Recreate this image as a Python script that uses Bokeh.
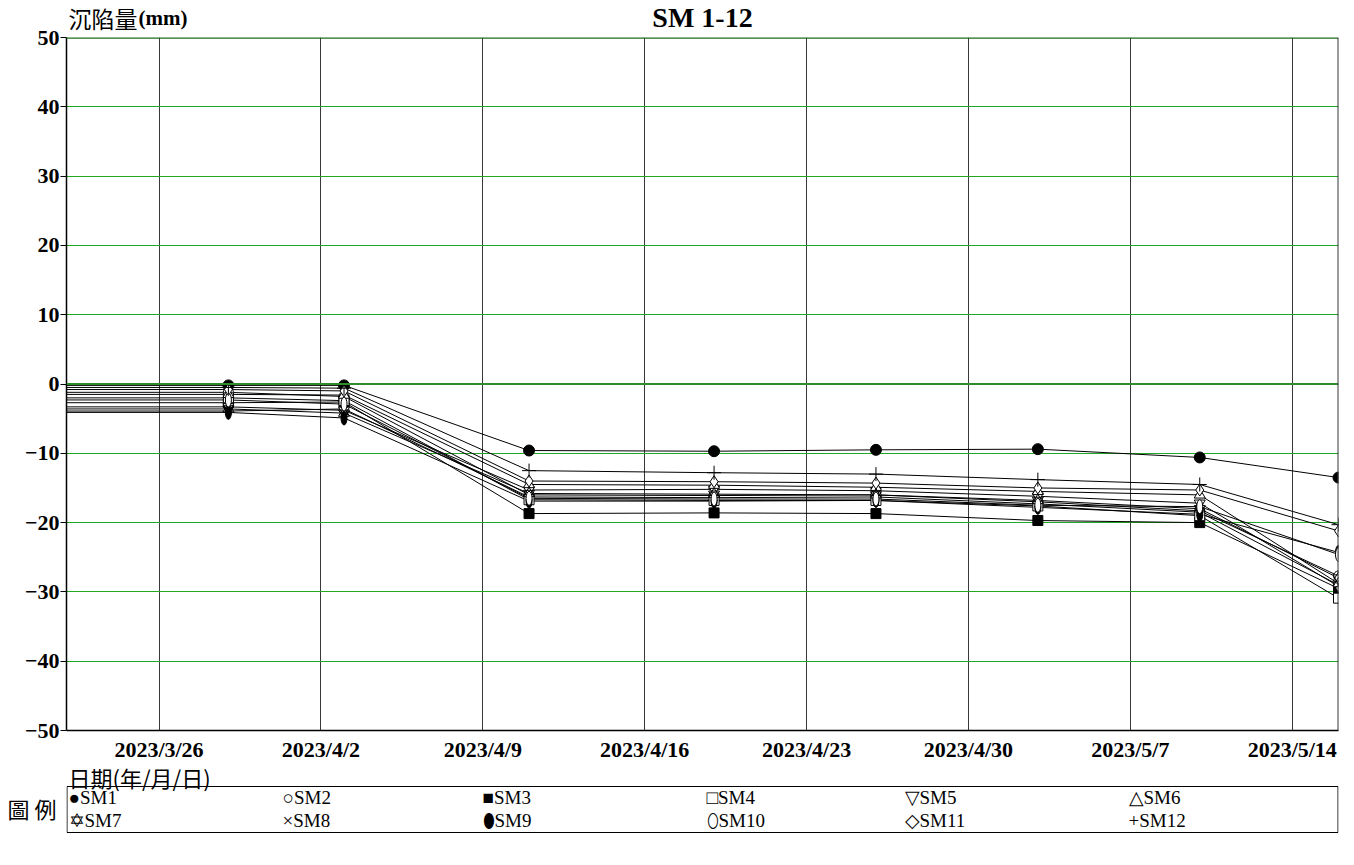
from datetime import datetime
from bokeh.plotting import figure
from bokeh.models import Range1d, FixedTicker, Span, ColumnDataSource, LinearAxis
from bokeh.layouts import column
from bokeh.embed import file_html
from bokeh.resources import INLINE
from bokeh.core.properties import value

# ---------------- data ----------------
DATES = ["2023/3/15", "2023/3/29", "2023/4/3", "2023/4/11", "2023/4/19",
         "2023/4/26", "2023/5/3", "2023/5/10", "2023/5/16"]
SERIES_NAMES = ["SM1", "SM2", "SM3", "SM4", "SM5", "SM6",
                "SM7", "SM8", "SM9", "SM10", "SM11", "SM12"]
SM1 = [-0.2, -0.2, -0.2, -9.6, -9.7, -9.5, -9.4, -10.6, -13.5]
SM2 = [-1.2, -1.2, -1.8, -16.0, -16.1, -16.0, -17.0, -18.3, -27.7]
SM3 = [-2.7, -2.7, -2.6, -18.7, -18.6, -18.7, -19.7, -20.0, -29.5]
SM4 = [-2.0, -2.0, -2.4, -16.7, -16.8, -16.8, -17.6, -19.0, -30.9]
SM5 = [-3.3, -3.3, -3.8, -15.3, -15.2, -15.4, -16.2, -17.2, -29.2]
SM6 = [-1.5, -1.5, -1.6, -14.5, -14.6, -14.9, -15.5, -16.0, -28.8]
SM7 = [-3.6, -3.6, -4.2, -15.8, -15.9, -16.0, -16.8, -18.0, -28.0]
SM8 = [-3.9, -3.9, -3.6, -16.3, -16.4, -16.3, -17.3, -18.5, -29.0]
SM9 = [-4.1, -4.1, -4.9, -16.9, -16.9, -16.8, -17.8, -18.8, -24.3]
SM10 = [-2.3, -2.3, -2.9, -16.5, -16.6, -16.6, -17.5, -17.7, -24.6]
SM11 = [-0.8, -0.8, -1.0, -14.0, -14.1, -14.3, -15.0, -15.3, -21.2]
SM12 = [-0.5, -0.5, -0.6, -12.5, -12.8, -13.0, -13.8, -14.5, -20.3]
SERIES = [SM1, SM2, SM3, SM4, SM5, SM6, SM7, SM8, SM9, SM10, SM11, SM12]
LEGEND_SYMBOLS = ["●", "○", "■", "□", "▽", "△", "✡", "×", "⬮", "⬯", "◇", "+"]

X_START = "2023/3/22"
X_END = "2023/5/16"
TICK_LABELS = ["2023/3/26", "2023/4/2", "2023/4/9", "2023/4/16",
               "2023/4/23", "2023/4/30", "2023/5/7", "2023/5/14"]
Y_TICKS = [-50, -40, -30, -20, -10, 0, 10, 20, 30, 40, 50]
TITLE = "SM 1-12"
Y_LABEL_CJK = "沉陷量"
Y_LABEL_UNIT = "(mm)"
X_LABEL = "日期(年/月/日)"
LEGEND_TITLE = "圖 例"


def ms(s):
    d = datetime.strptime(s, "%Y/%m/%d")
    return (d - datetime(1970, 1, 1)).total_seconds() * 1000.0


xs = [ms(d) for d in DATES]
x0, x1 = ms(X_START), ms(X_END)
tick_ms = [ms(t) for t in TICK_LABELS]

SERIF = "Liberation Serif"
CJK = "Noto Sans CJK TC"

W = 1350
LEFT = 66          # frame left edge (page px)
RIGHT = 12         # border right of the frame
TOP = 37           # frame top edge
P_H = 764          # main chart height (frame bottom at 733)
HD_H = 37          # header strip (drawn underneath the chart's transparent top border)
LG_TOP = 748       # legend strip starts here (overlapping the chart's bottom border)
LG_H = 106


def strip(height, top):
    f = figure(width=W, height=height, x_range=Range1d(LEFT, W - RIGHT),
               y_range=Range1d(top + height, top),
               output_backend="svg", toolbar_location=None,
               x_axis_location=None, y_axis_location=None,
               min_border_left=LEFT, min_border_right=RIGHT,
               min_border_top=0, min_border_bottom=0)
    f.outline_line_color = None
    f.xgrid.visible = False
    f.ygrid.visible = False
    f.background_fill_color = None
    f.border_fill_color = None
    return f


# ---------------- header strip (title + y-axis name) ----------------
hd = strip(HD_H, 0)
hd.text(x=[(LEFT + W - RIGHT) / 2], y=[17], text=[TITLE], text_font=value(SERIF),
        text_font_style="bold", text_font_size="28px", text_align="center",
        text_baseline="middle", text_color="black")
hd.text(x=[68], y=[17], text=[Y_LABEL_CJK], text_font=value(CJK),
        text_font_size="23px", text_align="left", text_baseline="middle",
        text_color="black")
hd.text(x=[138], y=[17], text=[Y_LABEL_UNIT], text_font=value(SERIF),
        text_font_style="bold", text_font_size="21px", text_align="left",
        text_baseline="middle", text_color="black")

# ---------------- main chart ----------------
p = figure(width=W, height=P_H, x_axis_type="datetime",
           x_range=Range1d(x0, x1), y_range=Range1d(-50, 50),
           output_backend="svg", toolbar_location=None,
           min_border_left=LEFT, min_border_right=RIGHT,
           min_border_top=TOP, min_border_bottom=31,
           styles={"margin-top": f"-{HD_H}px"})
p.outline_line_color = None
p.background_fill_color = "white"
p.border_fill_color = None

p.xaxis.ticker = FixedTicker(ticks=tick_ms)
p.xaxis.major_label_overrides = {t: lab for t, lab in zip(tick_ms, TICK_LABELS)}
p.yaxis.ticker = FixedTicker(ticks=Y_TICKS)
for ax in (p.xaxis[0], p.yaxis[0]):
    ax.major_label_text_font = SERIF
    ax.major_label_text_font_style = "bold"
    ax.major_label_text_font_size = "22px"
    ax.major_label_text_color = "black"
    ax.axis_line_color = "black"
    ax.axis_line_width = 1.5
    ax.minor_tick_line_color = None
    ax.major_tick_line_color = "black"
p.xaxis.major_tick_out = 0
p.xaxis.major_tick_in = 0
p.xaxis.major_label_standoff = 6
p.yaxis.major_tick_out = 6
p.yaxis.major_tick_in = 0
p.yaxis.major_label_standoff = 1

p.xgrid.grid_line_color = "#383838"
p.xgrid.grid_line_width = 1
p.ygrid.grid_line_color = "#22a822"
p.ygrid.grid_line_width = 1

p.add_layout(Span(location=0, dimension="width", line_color="#2a8f2a", line_width=2))
p.add_layout(Span(location=50, dimension="width", line_color="#1d6e1d", line_width=2.5))
p.add_layout(Span(location=x1, dimension="height", line_color="#383838", line_width=2))

for ys in SERIES:
    p.line(xs, ys, line_color="black", line_width=1)

src = {name: ColumnDataSource(dict(x=xs, y=ys)) for name, ys in zip(SERIES_NAMES, SERIES)}
mk = dict(line_color="black", line_width=1)
p.scatter("x", "y", source=src["SM1"], marker="circle", size=11, fill_color="black", **mk)
p.scatter("x", "y", source=src["SM2"], marker="circle", size=10, fill_color="white", **mk)
p.scatter("x", "y", source=src["SM3"], marker="square", size=10, fill_color="black", **mk)
p.scatter("x", "y", source=src["SM4"], marker="square", size=10, fill_color="white", **mk)
p.scatter("x", "y", source=src["SM5"], marker="inverted_triangle", size=11, fill_color="white", **mk)
p.scatter("x", "y", source=src["SM6"], marker="triangle", size=11, fill_color="white", **mk)
p.scatter("x", "y", source=src["SM7"], marker="triangle", size=11, fill_color=None, **mk)
p.scatter("x", "y", source=src["SM7"], marker="inverted_triangle", size=11, fill_color=None, **mk)
p.scatter("x", "y", source=src["SM8"], marker="x", size=9, **mk)
p.ellipse("x", "y", source=src["SM9"], width=6, height=14, width_units="screen",
          height_units="screen", fill_color="black", **mk)
p.ellipse("x", "y", source=src["SM10"], width=6, height=14, width_units="screen",
          height_units="screen", fill_color="white", **mk)
p.scatter("x", "y", source=src["SM11"], marker="diamond", size=12, fill_color="white", **mk)
p.scatter("x", "y", source=src["SM12"], marker="cross", size=14, **mk)

# ---------------- legend strip ----------------
lg = strip(LG_H, LG_TOP)
lg.styles = {"margin-top": f"-{P_H - LG_TOP}px"}
cap_axis = LinearAxis(ticker=FixedTicker(ticks=[807]),
                      major_label_overrides={807: LEGEND_TITLE},
                      major_label_text_font=CJK, major_label_text_font_size="22px",
                      major_label_text_color="black", major_label_standoff=4,
                      axis_line_color=None, major_tick_line_color=None,
                      minor_tick_line_color=None)
lg.add_layout(cap_axis, "left")

lg.text(x=[68], y=[776], text=[X_LABEL], text_font=value(CJK), text_font_size="22px",
        text_baseline="middle", text_align="left", text_color="black")
lg.quad(left=[LEFT + 0.5], right=[W - RIGHT - 0.5], top=[786], bottom=[832],
        fill_color=None, line_color="black", line_width=1)

col_x = [68, 282, 482, 706, 904, 1128]
row_y = [797, 820]
items = [s + n for s, n in zip(LEGEND_SYMBOLS, SERIES_NAMES)]
lx = [col_x[i % 6] for i in range(len(items))]
ly = [row_y[i // 6] for i in range(len(items))]
lg.text(x=lx, y=ly, text=items, text_font=value(SERIF), text_font_size="19px",
        text_baseline="middle", text_align="left", text_color="black")

layout = column(hd, p, lg, spacing=0)
open("out.html", "w").write(file_html(layout, INLINE))
